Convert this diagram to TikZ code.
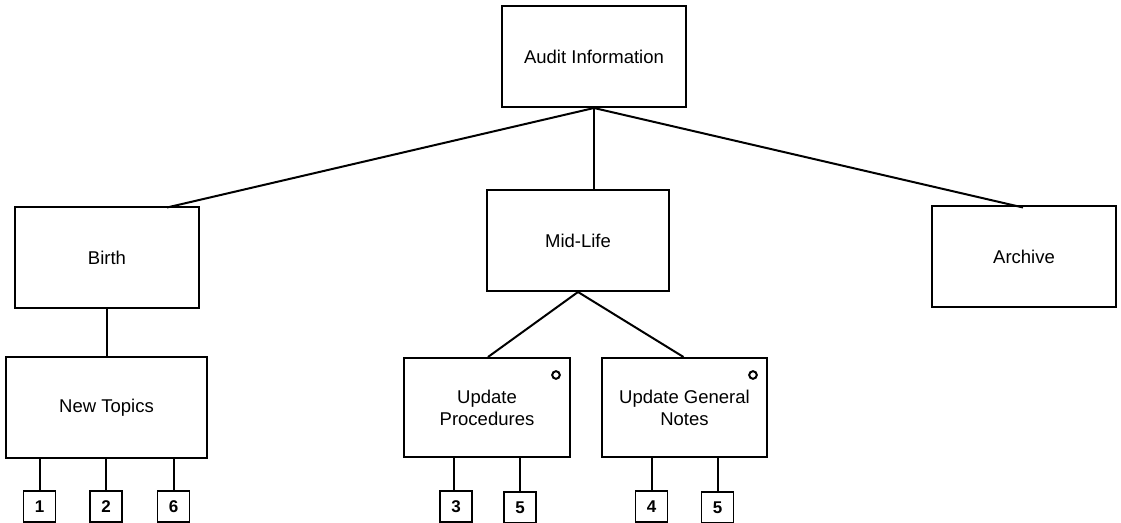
\documentclass[tikz,border=0pt]{standalone}
\usepackage{fontspec}
\setmainfont{Liberation Sans}
\usetikzlibrary{positioning,calc}
\tikzset{
  % boxes
  proc/.style={rectangle,draw=black,fill=white,line width=1pt,inner sep=2pt,
               minimum width=92pt,minimum height=50.5pt,align=center,
               font=\fontsize{9.25}{11}\selectfont},
  refbox/.style={rectangle,draw=black,fill=white,line width=0.9pt,inner sep=0pt,
                 minimum width=16pt,minimum height=15.5pt,
                 font=\fontsize{8.5}{10}\selectfont\bfseries},
  optmark/.style={circle,draw=black,line width=1pt,inner sep=0pt,minimum size=3.8pt},
  % lines
  link/.style={draw=black,line width=1pt},
}
\begin{document}
\begin{tikzpicture}[x=0.5pt,y=-0.5pt]
\useasboundingbox (0,0) rectangle (1121,523);
  % top level
  \node[proc] (audit) at (594,56.5) {Audit Information};
  \node[proc] (birth) at (107,257.5) {Birth};
  \node[proc,minimum width=91pt] (midlife) at (578,240.5) {Mid-Life};
  \node[proc] (archive) at (1024,257) {Archive};
  % second level
  \node[proc,minimum width=100.5pt] (newtopics) at (106.5,408) {New Topics};
  \node[proc,minimum width=83pt,minimum height=49.5pt] (updproc) at (487,407.5) {Update\\Procedures};
  \node[proc,minimum width=82.5pt,minimum height=49.5pt] (updnotes) at (684.5,407.5) {Update General\\Notes};
  \node[optmark] (optproc) at (556,375) {};
  \node[optmark] (optnotes) at (753,375) {};
  % references
  \node[refbox] (r1) at (39.5,506.5) {1};
  \node[refbox] (r2) at (106,506.5) {2};
  \node[refbox] (r6) at (173.5,506.5) {6};
  \node[refbox] (r3) at (456,506.5) {3};
  \node[refbox] (r5a) at (520,507.5) {5};
  \node[refbox] (r4) at (651.5,506.5) {4};
  \node[refbox] (r5b) at (717.5,507.5) {5};
  \coordinate (birthtop) at (167,207.5);
  \coordinate (archtop) at (1023,207.5);
  % connectors
  \draw[link] (audit.south) -- (birthtop);
  \draw[link] (audit.south) -- (audit.south |- midlife.north);
  \draw[link] (audit.south) -- (archtop);
  \draw[link] (birth.south) -- (birth.south |- newtopics.north);
  \draw[link] (midlife.south) -- ($(updproc.north)+(1,0)$);
  \draw[link] (midlife.south) -- ($(updnotes.north)+(-1,0)$);
  \foreach \r in {r1,r2,r6}
    \draw[link] (newtopics.south -| \r) -- (\r);
  \draw[link] (updproc.south -| 454,0) -- (r3.north -| 454,0);
  \draw[link] (updproc.south -| r5a) -- (r5a);
  \draw[link] (updnotes.south -| r4) -- (r4);
  \draw[link] (updnotes.south -| r5b) -- (r5b);
\end{tikzpicture}
\end{document}
